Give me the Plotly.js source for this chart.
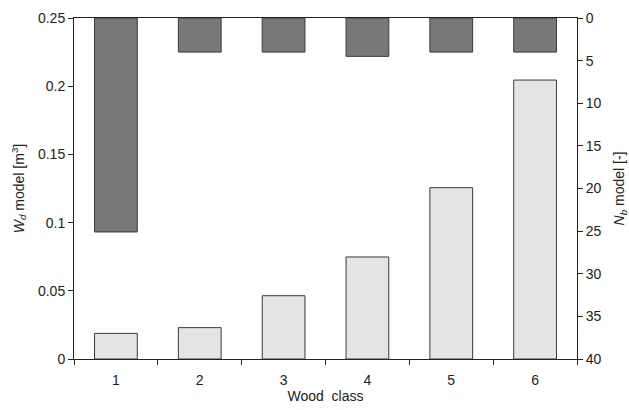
<!DOCTYPE html>
<html>
<head>
<meta charset="utf-8">
<script src="https://cdn.plot.ly/plotly-3.0.1.min.js"></script>
<style>html,body{margin:0;padding:0;background:#fff;}#chart{width:629px;height:410px;}</style>
</head>
<body>
<div id="chart"></div>
<script>
const categories = ['1', '2', '3', '4', '5', '6'];
const wdModel = [0.0188, 0.023, 0.0464, 0.0748, 0.1256, 0.2045];
const nbModel = [25.1, 4.0, 4.0, 4.5, 4.0, 4.0];

const traces = [
  {
    type: 'bar', x: categories, y: wdModel, yaxis: 'y', name: 'Wd',
    marker: {color: '#e3e4e6', line: {color: '#3a3a3a', width: 1}},
    hoverinfo: 'skip'
  },
  {
    type: 'bar', x: categories, y: nbModel, yaxis: 'y2', name: 'Nb',
    marker: {color: '#777878', line: {color: '#3a3a3a', width: 1}},
    hoverinfo: 'skip'
  }
];

const fnt = {family: 'Liberation Sans, Arial, sans-serif', size: 14, color: '#222'};

const layout = {
  width: 629, height: 410,
  margin: {l: 74, r: 52, t: 18, b: 51},
  paper_bgcolor: '#fff', plot_bgcolor: '#fff',
  showlegend: false,
  barmode: 'overlay',
  bargap: 0.49,
  font: fnt,
  xaxis: {
    type: 'category', tickson: 'boundaries',
    ticks: 'outside', ticklen: 5, tickcolor: '#222',
    ticklabelstandoff: 8,
    showline: true, linecolor: '#222', linewidth: 1, mirror: true,
    showgrid: false, zeroline: false,
    tickfont: fnt,
    title: {text: 'Wood  class', font: fnt, standoff: 4}
  },
  yaxis: {
    range: [0, 0.25], tickvals: [0, 0.05, 0.1, 0.15, 0.2, 0.25],
    ticktext: ['0', '0.05', '0.1', '0.15', '0.2', '0.25'],
    ticks: 'outside', ticklen: 5, tickcolor: '#222',
    showline: true, linecolor: '#222', linewidth: 1,
    showgrid: false, zeroline: false,
    tickfont: fnt,
    title: {text: '<i>W</i><sub><i>d</i></sub> model [m<sup>3</sup>]', font: fnt, standoff: 10}
  },
  yaxis2: {
    overlaying: 'y', side: 'right',
    range: [40, 0], tickvals: [0, 5, 10, 15, 20, 25, 30, 35, 40],
    ticks: 'outside', ticklen: 5, tickcolor: '#222',
    showline: true, linecolor: '#222', linewidth: 1,
    showgrid: false, zeroline: false,
    tickfont: fnt,
    title: {text: '<i>N</i><sub><i>b</i></sub> model [-]', font: fnt, standoff: 14}
  }
};

Plotly.newPlot('chart', traces, layout, {displayModeBar: false, staticPlot: true});
</script>
</body>
</html>
